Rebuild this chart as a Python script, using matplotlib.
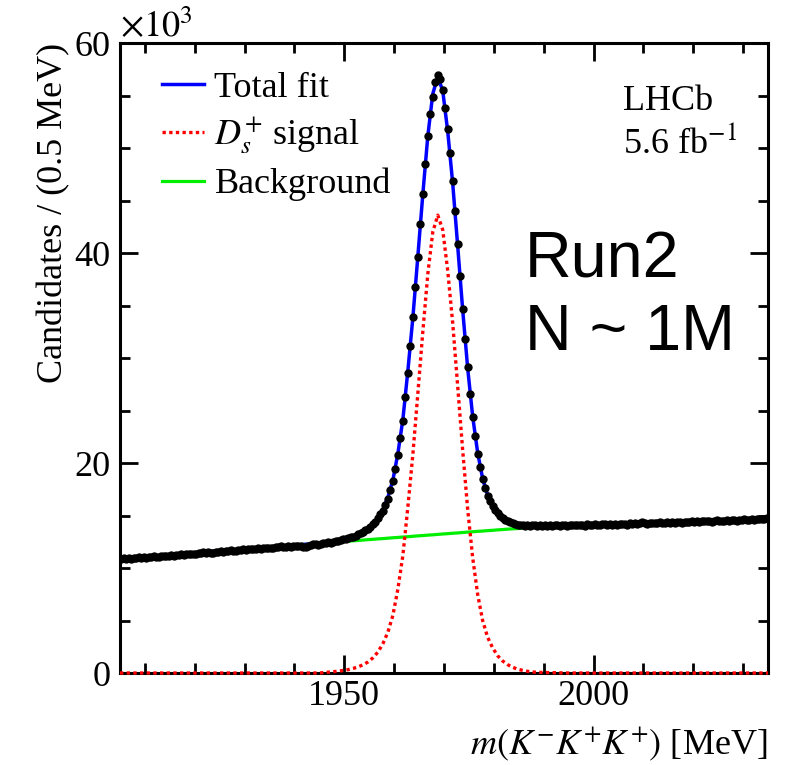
import numpy as np
import matplotlib
matplotlib.use("Agg")
import matplotlib.pyplot as plt
from matplotlib.ticker import MultipleLocator

plt.rcParams["font.family"] = ["Liberation Serif", "DejaVu Serif"]
plt.rcParams["mathtext.fontset"] = "stix"

# Histogram binning: 0.5 MeV bins over the fit window
M_LOW = 1905.0
M_HIGH = 2035.0
BIN_WIDTH = 0.5

# Candidates per bin (x10^3), lower sideband 1905-1952 MeV
counts_low = [
    10.82, 10.91, 10.86, 10.95, 10.90, 10.97, 10.93, 11.02, 10.96, 11.05,
    11.00, 11.08, 11.04, 11.12, 11.07, 11.03, 11.15, 11.11, 11.19, 11.14,
    11.22, 11.18, 11.27, 11.24, 11.31, 11.26, 11.35, 11.29, 11.38, 11.33,
    11.36, 11.44, 11.40, 11.49, 11.45, 11.52, 11.47, 11.43, 11.55, 11.51,
    11.60, 11.55, 11.64, 11.61, 11.70, 11.66, 11.62, 11.74, 11.69, 11.78,
    11.72, 11.80, 11.77, 11.85, 11.82, 11.90, 11.84, 11.93, 11.88, 11.86,
    11.95, 11.91, 12.00, 11.97, 12.05, 12.01, 11.98, 12.08, 12.04, 12.12,
    12.09, 12.14, 12.07, 12.02, 11.98, 12.05, 12.20, 12.32, 12.26, 12.22,
    12.33, 12.40, 12.37, 12.45, 12.42, 12.50, 12.55, 12.60, 12.66, 12.72,
    12.78, 12.85, 12.92, 12.98,
]

# Candidates per bin (x10^3), signal region 1952-1986 MeV
counts_peak = [
    13.08, 13.20, 13.32, 13.45, 13.58, 13.75, 13.94, 14.15, 14.42, 14.75,
    15.12, 15.45, 16.00, 16.60, 17.40, 18.30, 19.40, 20.80, 22.40, 24.00,
    26.30, 28.60, 31.10, 33.90, 36.80, 39.60, 42.80, 45.60, 48.50, 51.10,
    53.20, 54.90, 56.30, 57.00, 56.60, 55.50, 53.80, 51.80, 49.50, 46.90,
    44.00, 40.90, 37.80, 34.70, 31.80, 29.10, 26.60, 24.40, 22.60, 20.90,
    19.60, 18.50, 17.60, 16.90, 16.40, 15.95, 15.55, 15.25, 15.00, 14.78,
    14.60, 14.46, 14.34, 14.25, 14.18, 14.12, 14.08, 14.05,
]

# Candidates per bin (x10^3), upper sideband 1986-2035 MeV
counts_high = [
    14.02, 14.08, 13.98, 14.05, 14.10, 14.01, 14.07, 13.99, 14.06, 14.03,
    14.09, 14.02, 14.11, 14.05, 13.98, 14.08, 14.13, 14.04, 14.10, 14.06,
    14.12, 14.05, 14.14, 14.09, 14.03, 14.16, 14.10, 14.07, 14.18, 14.11,
    14.08, 14.15, 14.21, 14.12, 14.17, 14.09, 14.19, 14.14, 14.22, 14.16,
    14.20, 14.13, 14.24, 14.18, 14.27, 14.21, 14.30, 14.35, 14.26, 14.22,
    14.25, 14.31, 14.24, 14.29, 14.34, 14.27, 14.33, 14.38, 14.30, 14.36,
    14.32, 14.40, 14.35, 14.28, 14.37, 14.42, 14.36, 14.44, 14.39, 14.46,
    14.41, 14.47, 14.43, 14.50, 14.45, 14.40, 14.49, 14.53, 14.47, 14.44,
    14.51, 14.56, 14.49, 14.54, 14.60, 14.52, 14.58, 14.55, 14.62, 14.57,
    14.60, 14.66, 14.59, 14.64, 14.70, 14.63, 14.68, 14.72,
]

# Fit model sampled on a mass grid (MeV): coarse in the sidebands, 1 MeV under the peak
fit_mass_low = [1905, 1910, 1915, 1920, 1925, 1930, 1935, 1940, 1945]
fit_mass_core = list(np.arange(1948.75, 1989.0, 1.0))
fit_mass_high = [1995, 2000, 2005, 2010, 2015, 2020, 2025, 2030, 2035]

# Combinatorial background component (x10^3 per bin)
bkg_fit = [
    10.85, 11.05, 11.25, 11.45, 11.64, 11.83, 12.01, 12.18, 12.35,
    12.48, 12.52, 12.55, 12.59, 12.62, 12.66, 12.70, 12.73, 12.77, 12.80,
    12.84, 12.88, 12.91, 12.95, 12.98, 13.02, 13.06, 13.09, 13.13, 13.16,
    13.20, 13.24, 13.27, 13.31, 13.34, 13.38, 13.42, 13.45, 13.49, 13.52,
    13.56, 13.59, 13.63, 13.66, 13.70, 13.73, 13.76, 13.79, 13.84, 13.87,
    13.90,
    14.04, 14.13, 14.22, 14.30, 14.38, 14.45, 14.52, 14.59, 14.65,
]

# D_s+ signal component (x10^3 per bin)
sig_fit = [
    0, 0, 0, 0, 0, 0, 0, 0, 0,
    0.17, 0.24, 0.32, 0.43, 0.58, 0.78, 1.05, 1.45, 2.0, 2.8,
    3.9, 5.5, 8.0, 11.2, 15.8, 20.8, 26.6, 32.5, 38.0, 42.0,
    43.6, 42.2, 38.3, 33.3, 27.3, 21.2, 15.6, 11.0, 7.5, 5.0,
    3.4, 2.4, 1.65, 1.15, 0.8, 0.55, 0.37, 0.25, 0.16, 0.1,
    0.06,
    0, 0, 0, 0, 0, 0, 0, 0, 0,
]

counts = np.array(counts_low + counts_peak + counts_high)
centres = M_LOW + BIN_WIDTH * (np.arange(len(counts)) + 0.5)

fit_mass = np.array(fit_mass_low + fit_mass_core + fit_mass_high)
bkg = np.array(bkg_fit)
sig = np.array(sig_fit)
total = bkg + sig

fig = plt.figure(figsize=(7.88, 7.65), dpi=100)
ax = fig.add_axes([120 / 788, 92 / 765, 648 / 788, 630 / 765])

l_bkg, = ax.plot(fit_mass, bkg, color="#00ee00", lw=2.3, zorder=2)
l_tot, = ax.plot(fit_mass, total, color="#0000ff", lw=2.5, zorder=3)
ax.plot(centres, counts, "o", color="k", ms=5.0, zorder=4)
l_sig, = ax.plot(fit_mass, sig, color="#ff0000", lw=2.4, ls=(0, (1, 1)),
                 zorder=5, clip_on=False)

ax.set_xlim(M_LOW, M_HIGH)
ax.set_ylim(0, 60)
ax.xaxis.set_major_locator(MultipleLocator(50))
ax.xaxis.set_minor_locator(MultipleLocator(10))
ax.yaxis.set_major_locator(MultipleLocator(20))
ax.yaxis.set_minor_locator(MultipleLocator(5))

ax.tick_params(which="both", direction="in", top=True, right=True,
               width=2.0, labelsize=26)
ax.tick_params(which="major", length=13)
ax.tick_params(which="minor", length=7)
ax.tick_params(axis="x", which="major", pad=5)
ax.tick_params(axis="y", which="major", pad=7)
for sp in ax.spines.values():
    sp.set_linewidth(2.2)

ax.set_xlabel(r"$m(K^{-}K^{+}K^{+})$ [MeV]", fontsize=26, loc="right")
ax.xaxis.set_label_coords(1.0, -0.082)
ax.set_ylabel("Candidates / (0.5 MeV)", fontsize=26, loc="top")
ax.yaxis.set_label_coords(-0.077, 1.0)

ax.text(0.0, 1.0095, r"$\times10^{3}$", transform=ax.transAxes,
        fontsize=26, va="baseline")

ax.legend([l_tot, l_sig, l_bkg], ["Total fit", r"$D_s^{+}$ signal", "Background"],
          loc="upper left", bbox_to_anchor=(0.065, 0.955), frameon=False,
          fontsize=26, handlelength=1.15, handletextpad=0.3,
          labelspacing=0.3, borderpad=0, borderaxespad=0)

ax.text(0.776, 0.894, "LHCb", transform=ax.transAxes, fontsize=26, va="baseline")
ax.text(0.776, 0.825, r"5.6 fb$^{-1}$", transform=ax.transAxes, fontsize=26,
        va="baseline")

ax.text(0.625, 0.627, "Run2", transform=ax.transAxes, fontsize=46.5,
        family="Liberation Sans", va="baseline")
ax.text(0.625, 0.513, "N ~ 1M", transform=ax.transAxes, fontsize=46.5,
        family="Liberation Sans", va="baseline")

fig.savefig("out.png", dpi=100)
